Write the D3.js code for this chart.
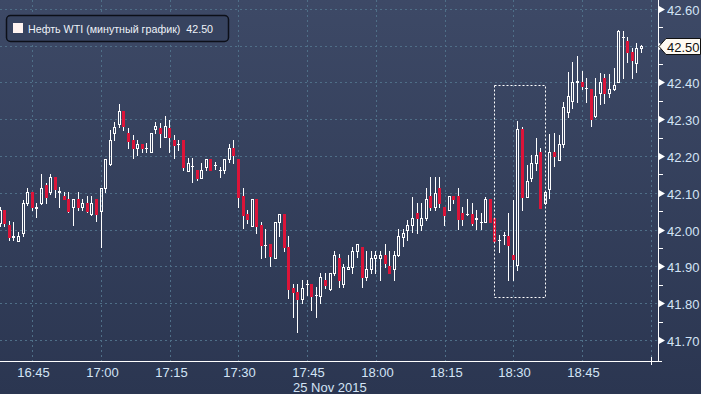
<!DOCTYPE html>
<html>
<head>
<meta charset="utf-8">
<script src="https://cdn.jsdelivr.net/npm/d3@7"></script>
<style>
  html, body { margin: 0; padding: 0; background: #2c3752; }
  svg { display: block; }
  text { font-family: "Liberation Sans", Arial, sans-serif; }
</style>
</head>
<body>
<svg id="chart" width="701" height="394"></svg>
<script>
// Minute candles, WTI, 25 Nov 2015
const times = ['16:38','16:39','16:40','16:41','16:42','16:43','16:44','16:45','16:46','16:47','16:48','16:49','16:50','16:51','16:52','16:53','16:54','16:55','16:56','16:57','16:58','16:59',
  '17:00','17:01','17:02','17:03','17:04','17:05','17:06','17:07','17:08','17:09','17:10','17:11','17:12','17:13','17:14','17:15','17:16','17:17','17:18','17:19','17:20','17:21','17:22','17:23','17:24','17:25','17:26','17:27','17:28','17:29',
  '17:30','17:31','17:32','17:33','17:34','17:35','17:36','17:37','17:38','17:39','17:40','17:41','17:42','17:43','17:44','17:45','17:46','17:47','17:48','17:49','17:50','17:51','17:52','17:53','17:54','17:55','17:56','17:57','17:58','17:59',
  '18:00','18:01','18:02','18:03','18:04','18:05','18:06','18:07','18:08','18:09','18:10','18:11','18:12','18:13','18:14','18:15','18:16','18:17','18:18','18:19','18:20','18:21','18:22','18:23','18:24','18:25','18:26','18:27','18:28','18:29',
  '18:30','18:31','18:32','18:33','18:34','18:35','18:36','18:37','18:38','18:39','18:40','18:41','18:42','18:43','18:44','18:45','18:46','18:47','18:48','18:49','18:50','18:51','18:52','18:53','18:54','18:55','18:56','18:57','18:58'];

const opens = [42.018,42.053,42.013,41.980,41.970,41.991,42.072,42.102,42.060,42.072,42.121,42.101,42.142,42.102,42.091,42.082,42.061,42.082,42.061,42.072,42.042,42.082,
  42.051,42.112,42.177,42.262,42.286,42.322,42.263,42.244,42.221,42.232,42.221,42.210,42.273,42.275,42.251,42.275,42.244,42.232,42.244,42.159,42.172,42.162,42.141,42.171,42.191,42.175,42.162,42.162,42.191,42.221,
  42.191,42.091,42.042,42.011,42.082,42.013,41.957,41.961,41.922,42.020,42.042,41.952,41.840,41.831,41.811,41.852,41.852,41.822,41.820,41.863,41.838,41.881,41.922,41.851,41.892,41.899,41.942,41.952,41.870,41.892,
  41.922,41.922,41.931,41.901,41.892,41.931,41.981,41.999,42.013,42.044,42.013,42.031,42.091,42.061,42.112,42.061,42.053,42.091,42.091,42.044,42.042,42.042,42.030,42.021,42.022,42.082,42.031,41.972,41.985,41.983,
  41.931,41.904,42.273,42.089,42.141,42.180,42.210,42.072,42.110,42.210,42.189,42.232,42.320,42.350,42.402,42.402,42.384,42.382,42.310,42.370,42.413,42.370,42.382,42.400,42.523,42.513,42.482,42.452,42.493];

const highs = [42.061,42.053,42.024,42.022,41.994,42.080,42.114,42.102,42.073,42.151,42.126,42.151,42.142,42.116,42.101,42.101,42.082,42.101,42.082,42.091,42.091,42.082,
  42.112,42.191,42.271,42.293,42.340,42.322,42.277,42.257,42.244,42.232,42.235,42.263,42.292,42.289,42.310,42.298,42.257,42.244,42.244,42.194,42.194,42.162,42.180,42.191,42.191,42.185,42.171,42.191,42.233,42.244,
  42.191,42.112,42.053,42.082,42.082,42.022,42.002,41.961,42.020,42.042,42.042,41.983,41.852,41.852,41.863,41.863,41.852,41.845,41.883,41.883,41.881,41.942,41.933,41.906,41.931,41.954,41.961,41.952,41.942,41.942,
  41.942,41.942,41.961,41.942,41.942,42.001,42.001,42.026,42.089,42.073,42.073,42.112,42.144,42.144,42.144,42.061,42.091,42.091,42.112,42.061,42.082,42.072,42.053,42.044,42.088,42.082,42.031,41.985,41.994,42.044,
  42.080,42.295,42.280,42.176,42.203,42.250,42.223,42.101,42.259,42.262,42.257,42.348,42.429,42.456,42.473,42.432,42.413,42.382,42.411,42.425,42.422,42.422,42.440,42.542,42.540,42.524,42.493,42.506,42.502];

const lows = [42.010,42.010,41.972,41.972,41.970,41.983,42.067,42.053,42.033,42.070,42.073,42.097,42.089,42.062,42.082,42.047,42.012,42.053,42.053,42.047,42.040,42.023,
  41.954,42.103,42.175,42.244,42.280,42.271,42.221,42.194,42.203,42.212,42.212,42.210,42.262,42.225,42.251,42.212,42.194,42.216,42.162,42.159,42.130,42.135,42.139,42.162,42.162,42.164,42.144,42.153,42.185,42.182,
  42.062,42.004,42.017,42.011,41.990,41.924,41.926,41.901,41.922,41.983,41.943,41.813,41.763,41.723,41.800,41.822,41.782,41.763,41.800,41.841,41.836,41.877,41.845,41.845,41.892,41.881,41.926,41.843,41.863,41.881,
  41.881,41.863,41.898,41.881,41.863,41.928,41.955,41.972,41.994,41.991,41.999,42.026,42.053,42.053,42.062,42.013,42.053,42.072,42.001,42.013,42.040,42.013,42.001,42.001,42.022,42.022,41.969,41.940,41.961,41.863,
  41.863,41.890,42.053,42.089,42.132,42.162,42.060,42.070,42.085,42.174,42.189,42.225,42.307,42.330,42.348,42.382,42.348,42.282,42.307,42.341,42.343,42.361,42.379,42.400,42.413,42.455,42.413,42.429,42.483];

const closes = [42.053,42.019,41.980,41.983,41.983,42.072,42.102,42.061,42.062,42.113,42.089,42.142,42.111,42.104,42.082,42.051,42.082,42.061,42.072,42.051,42.072,42.042,
  42.112,42.191,42.244,42.280,42.322,42.282,42.242,42.221,42.232,42.221,42.223,42.262,42.282,42.262,42.282,42.251,42.230,42.233,42.171,42.180,42.173,42.141,42.162,42.191,42.162,42.176,42.163,42.191,42.221,42.203,
  42.089,42.040,42.029,42.082,42.011,41.958,41.958,41.928,42.020,42.042,41.952,41.839,41.831,41.811,41.841,41.853,41.820,41.823,41.872,41.849,41.881,41.931,41.863,41.899,41.899,41.942,41.961,41.870,41.892,41.922,
  41.931,41.931,41.908,41.881,41.931,41.983,41.990,42.013,42.031,42.031,42.031,42.082,42.061,42.100,42.072,42.040,42.091,42.082,42.028,42.028,42.043,42.019,42.031,42.022,42.082,42.022,41.970,41.973,41.986,41.958,
  41.919,42.273,42.089,42.132,42.180,42.203,42.060,42.101,42.210,42.201,42.232,42.334,42.364,42.402,42.403,42.390,42.385,42.301,42.364,42.400,42.370,42.382,42.393,42.540,42.524,42.482,42.462,42.493,42.500];

const priceTicks = [41.70, 41.80, 41.90, 42.00, 42.10, 42.20, 42.30, 42.40, 42.50, 42.60];
const timeTicks = ['16:45','17:00','17:15','17:30','17:45','18:00','18:15','18:30','18:45','19:00'];
const dateLabel = '25 Nov 2015';
const seriesName = 'Нефть WTI (минутный график)';
const lastPrice = 42.50;
// highlighted spike window
const boxStart = '18:26', boxEnd = '18:37', boxLow = 41.818, boxHigh = 42.393;

const W = 701, H = 394;
const AXIS_X = 658, AXIS_Y = 361;
const RED = '#dc1439', GRID = '#4f6f88';

const mins = s => { const [h, m] = s.split(':').map(Number); return h * 60 + m; };
const x = d3.scaleLinear().domain([mins('16:45'), mins('18:45')]).range([32.3, 582]);
const y = d3.scaleLinear().domain([41.70, 42.60]).range([340, 8.8]);

const svg = d3.select('#chart');

// background gradient
const grad = svg.append('defs').append('linearGradient')
  .attr('id', 'bg').attr('x1', 0).attr('y1', 0).attr('x2', 0).attr('y2', 1);
grad.append('stop').attr('offset', '0%').attr('stop-color', '#3d4966');
grad.append('stop').attr('offset', '100%').attr('stop-color', '#2b3651');
svg.append('rect').attr('width', W).attr('height', H).attr('fill', 'url(#bg)');

svg.select('defs').append('clipPath').attr('id', 'plot')
  .append('rect').attr('x', 0).attr('y', 0).attr('width', AXIS_X).attr('height', AXIS_Y);

// grid
const grid = svg.append('g');
priceTicks.forEach(p => {
  const yy = Math.round(y(p)) + 0.5;
  grid.append('line').attr('x1', 0).attr('x2', AXIS_X).attr('y1', yy).attr('y2', yy)
    .attr('stroke', GRID).attr('stroke-dasharray', '2,3');
});
timeTicks.forEach(t => {
  const xx = Math.round(x(mins(t))) + 0.5;
  grid.append('line').attr('x1', xx).attr('x2', xx).attr('y1', 0).attr('y2', AXIS_Y)
    .attr('stroke', GRID).attr('stroke-dasharray', '2,3');
});

// candles
const gc = svg.append('g').attr('clip-path', 'url(#plot)');
times.forEach((t, i) => {
  const o = opens[i], c = closes[i], h = highs[i], l = lows[i];
  const cx = Math.floor(x(mins(t)));
  const yo = Math.round(y(o)), yc = Math.round(y(c));
  const yh = Math.round(y(h)), yl = Math.round(y(l));
  const top = Math.min(yo, yc), bot = Math.max(yo, yc);

  // wick above and below the body
  gc.append('line').attr('x1', cx + 0.5).attr('x2', cx + 0.5).attr('y1', yh).attr('y2', top)
    .attr('stroke', '#fff');
  gc.append('line').attr('x1', cx + 0.5).attr('x2', cx + 0.5).attr('y1', bot + 1).attr('y2', yl + 1)
    .attr('stroke', '#fff');

  if (bot - top < 2) {
    gc.append('rect').attr('x', cx - 1).attr('y', top).attr('width', 3).attr('height', Math.max(1, bot - top + 1))
      .attr('fill', c < o ? RED : '#fff');
  } else if (c > o) {
    gc.append('rect').attr('x', cx - 0.5).attr('y', top + 0.5).attr('width', 2).attr('height', bot - top)
      .attr('fill', 'none').attr('stroke', '#fff');
  } else {
    gc.append('rect').attr('x', cx - 1).attr('y', top).attr('width', 3).attr('height', bot - top + 1)
      .attr('fill', RED);
  }
});

// dotted highlight box
const bx0 = Math.round(x(mins(boxStart)) - 0.5) + 0.5, bx1 = Math.round(x(mins(boxEnd)) - 0.5) + 0.5;
svg.append('rect')
  .attr('x', bx0).attr('y', Math.round(y(boxHigh)) + 0.5)
  .attr('width', bx1 - bx0).attr('height', Math.round(y(boxLow)) - Math.round(y(boxHigh)))
  .attr('fill', 'none').attr('stroke', '#fff').attr('stroke-dasharray', '2,2');

// right price axis
const ax = svg.append('g');
ax.append('line').attr('x1', AXIS_X + 0.5).attr('x2', AXIS_X + 0.5).attr('y1', 0).attr('y2', AXIS_Y + 1)
  .attr('stroke', '#fff');
d3.range(41.70, 42.651, 0.05).forEach(p => {
  const yy = Math.round(y(p)) + 0.5;
  ax.append('line').attr('x1', AXIS_X + 1).attr('x2', AXIS_X + 5).attr('y1', yy).attr('y2', yy)
    .attr('stroke', '#fff');
});
priceTicks.forEach(p => {
  const yy = Math.round(y(p)) + 0.5;
  ax.append('path').attr('d', `M${AXIS_X + 1},${yy - 3.5}L${AXIS_X + 7},${yy}L${AXIS_X + 1},${yy + 3.5}Z`)
    .attr('fill', '#fff');
  if (p !== lastPrice) {
    ax.append('text').attr('x', AXIS_X + 9).attr('y', yy + 5)
      .attr('font-size', 13).attr('fill', '#d3e4f6').text(p.toFixed(2));
  }
});

// last price tag
const ly = Math.round(y(lastPrice)) + 0.5;
ax.append('path')
  .attr('d', `M${AXIS_X + 1},${ly}L${AXIS_X + 8},${ly - 8}H${W - 0.5}V${ly + 8}H${AXIS_X + 8}Z`)
  .attr('fill', '#fffaf2').attr('stroke', '#111');
ax.append('text').attr('x', AXIS_X + 9).attr('y', ly + 5)
  .attr('font-size', 13).attr('fill', '#111').text(lastPrice.toFixed(2));

// bottom time axis
const bx = svg.append('g');
bx.append('line').attr('x1', 0).attr('x2', AXIS_X + 4).attr('y1', AXIS_Y + 0.5).attr('y2', AXIS_Y + 0.5)
  .attr('stroke', '#fff');
timeTicks.forEach((t, i) => {
  const xx = Math.round(x(mins(t))) + 0.5;
  if (i === timeTicks.length - 1) {
    bx.append('line').attr('x1', xx).attr('x2', xx).attr('y1', AXIS_Y - 4).attr('y2', AXIS_Y + 4).attr('stroke', '#fff');
    return;
  }
  bx.append('text').attr('x', xx + 1).attr('y', 377).attr('text-anchor', 'middle')
    .attr('font-size', 13).attr('fill', '#d3e4f6').text(t);
});
bx.append('text').attr('x', 293).attr('y', 392)
  .attr('font-size', 13).attr('fill', '#d3e4f6').text(dateLabel);

// legend
const lg = svg.append('g');
lg.append('rect').attr('x', 6.5).attr('y', 15.5).attr('width', 222).attr('height', 26).attr('rx', 4)
  .attr('fill', '#37435f').attr('stroke', '#0c0f18').attr('stroke-width', 1.5);
lg.append('rect').attr('x', 13).attr('y', 23).attr('width', 10).attr('height', 10).attr('fill', '#fff3f0');
lg.append('text').attr('x', 28).attr('y', 33).attr('font-size', 11.5).attr('fill', '#eef2f8')
  .attr('textLength', 185).attr('lengthAdjust', 'spacingAndGlyphs')
  .attr('xml:space', 'preserve').text(seriesName + '  ' + lastPrice.toFixed(2));
</script>
</body>
</html>
